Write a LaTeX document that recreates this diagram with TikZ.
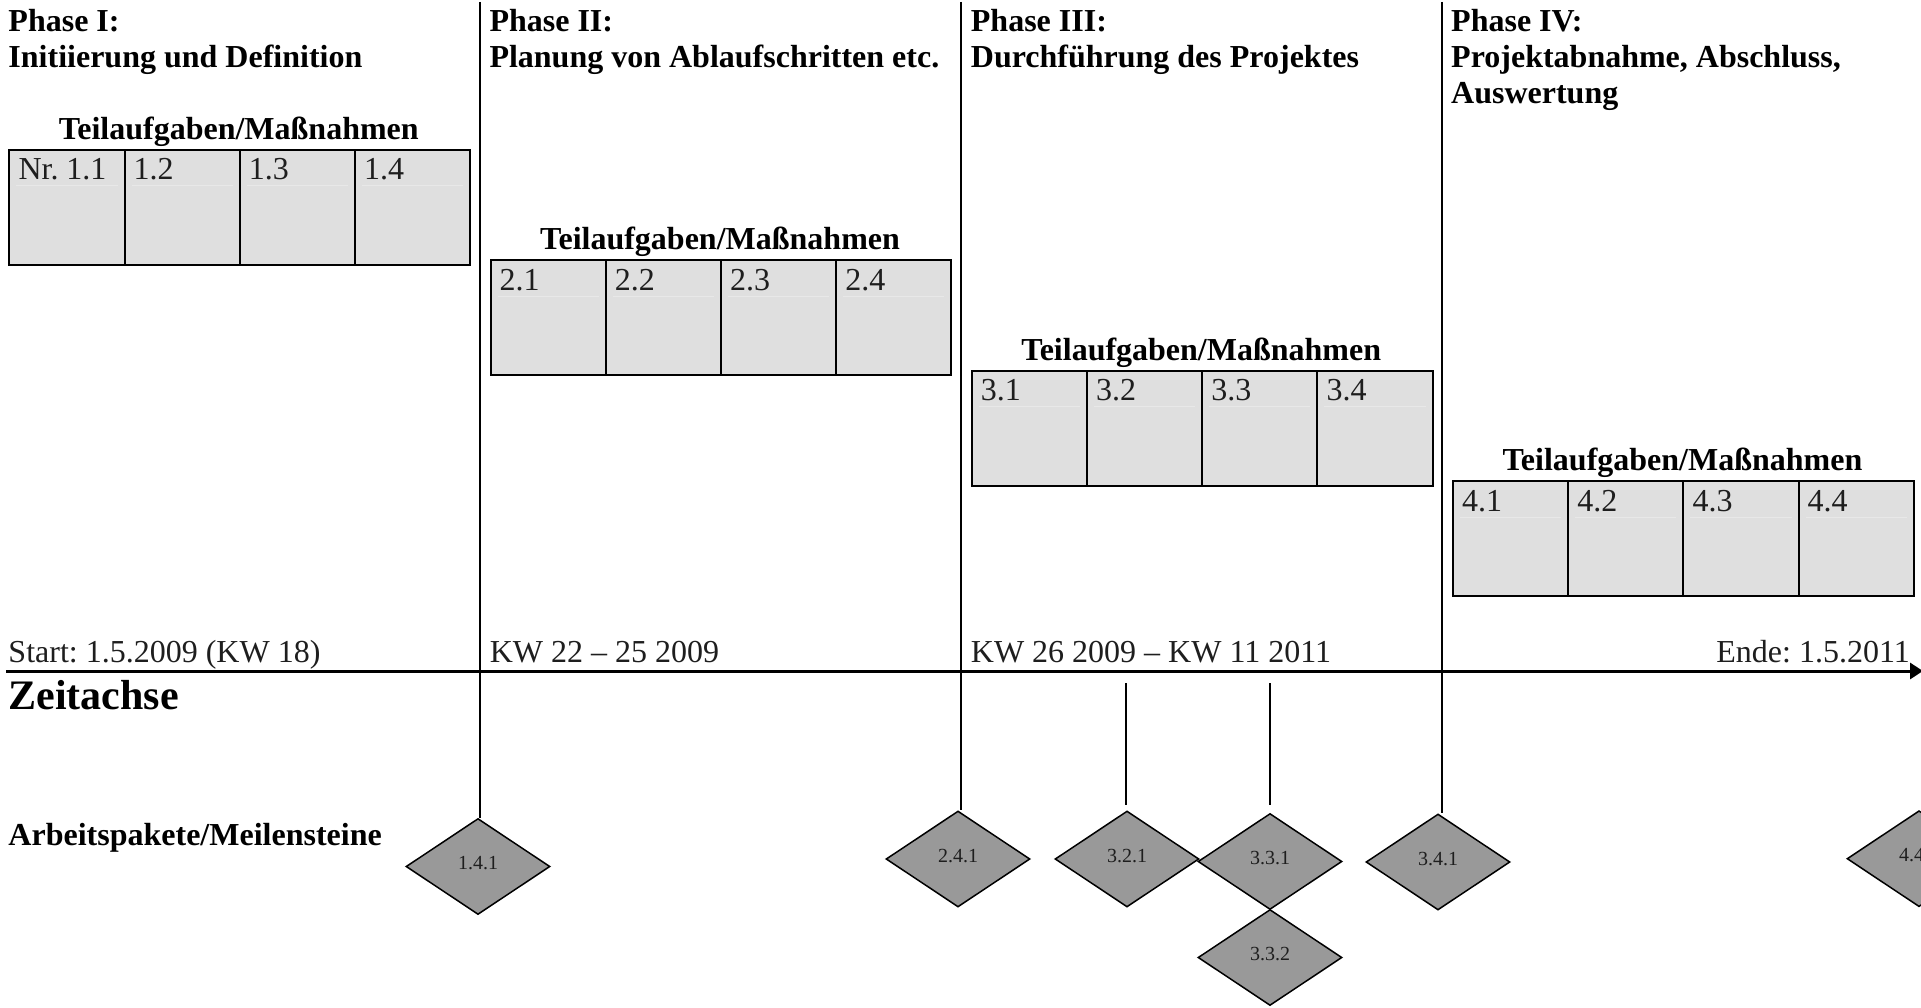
\documentclass[tikz,border=0pt]{standalone}
\usepackage{fontspec}
\setmainfont{Liberation Serif}
\usetikzlibrary{shapes.geometric,arrows.meta}
\definecolor{cellfill}{HTML}{DFDFDF}
\definecolor{msfill}{HTML}{999999}
\definecolor{faintcol}{HTML}{E8E8E8}
\definecolor{txtcol}{HTML}{1E1E1E}
\frenchspacing
\begin{document}
\begin{tikzpicture}[x=1pt,y=-1pt,
  phasetitle/.style={anchor=base west, inner sep=0pt, align=left, font=\fontsize{32}{36}\selectfont\bfseries},
  tahead/.style={anchor=base, inner sep=0pt, font=\fontsize{32}{36}\selectfont\bfseries},
  cellbox/.style={draw, line width=2pt, fill=cellfill, minimum width=115.2pt, minimum height=115pt, inner sep=0pt, anchor=north west},
  celltext/.style={anchor=base west, inner sep=0pt, font=\fontsize{32}{36}\selectfont, text=txtcol},
  faintline/.style={draw=faintcol, line width=1pt},
  timelabel/.style={anchor=base west, inner sep=0pt, font=\fontsize{32}{36}\selectfont, text=txtcol},
  boldlabel/.style={anchor=base west, inner sep=0pt, font=\fontsize{32}{36}\selectfont\bfseries},
  milestone/.style={diamond, draw, line width=1.5pt, fill=msfill, minimum width=144pt, minimum height=96pt, inner sep=0pt, font=\fontsize{20}{20}\selectfont, text=txtcol},
  phaseline/.style={line width=2pt},
  msline/.style={line width=1.5pt},
  axisline/.style={line width=3pt, -{Triangle[length=13pt,width=16pt]}}
]
\useasboundingbox (0,0) rectangle (1921,1008);
\clip (0,0) rectangle (1921,1008);

% phase headers (anchor base = baseline of the last line)
\node[phasetitle] (ph1) at (8.3,68) {Phase I:\\Initiierung und Definition};
\node[phasetitle] (ph2) at (489.3,68) {Phase II:\\Planung von Ablaufschritten etc.};
\node[phasetitle] (ph3) at (970.7,68) {Phase III:\\Durchführung des Projektes};
\node[phasetitle] (ph4) at (1451,104) {Phase IV:\\Projektabnahme, Abschluss,\\Auswertung};

% task boxes
\foreach \p in {1,2,3,4}{
  \pgfmathsetmacro\bx{8.3+481.2*(\p-1)}
  \pgfmathsetmacro\by{149+110.4*(\p-1)}
  \node[tahead] (ta\p) at (\bx+230.5,\by-9.5) {Teilaufgaben/Maßnahmen};
  \foreach \c in {1,2,3,4}{
    \pgfmathsetmacro\cx{\bx+115.2*(\c-1)}
    \node[cellbox] (c\p\c) at (\cx,\by) {};
    \draw[faintline] ([shift={(8,37)}]c\p\c.north west) -- ([shift={(-8,37)}]c\p\c.north east);
    \node[celltext] (t\p\c) at ([shift={(10,31)}]c\p\c.north west) {\ifnum\p\c=11 Nr. \fi\p.\c};
  }
}

% time labels
\node[timelabel] (tl1) at (8.3,662) {Start: 1.5.2009 (KW 18)};
\node[timelabel] (tl2) at (489.6,662) {KW 22 – 25 2009};
\node[timelabel] (tl3) at (970.7,662) {KW 26 2009 – KW 11 2011};
\node[timelabel, anchor=base east] (tl4) at (1910,662) {Ende: 1.5.2011};

\node[anchor=base west, inner sep=0pt, font=\fontsize{42}{46}\selectfont\bfseries] (zeit) at (8.3,709.5) {Zeitachse};
\node[boldlabel] (arb) at (8.3,845) {Arbeitspakete/Meilensteine};

% milestones
\node[milestone] (m141) at (478,866.5) {\raisebox{7pt}{1.4.1}};
\node[milestone] (m241) at (958,859) {\raisebox{7pt}{2.4.1}};
\node[milestone] (m321) at (1127,859) {\raisebox{7pt}{3.2.1}};
\node[milestone] (m331) at (1270,861.5) {\raisebox{7pt}{3.3.1}};
\node[milestone] (m332) at (1270,957.5) {\raisebox{7pt}{3.3.2}};
\node[milestone] (m341) at (1438,862) {\raisebox{7pt}{3.4.1}};
\node[milestone] (m441) at (1919,858.7) {\raisebox{7pt}{4.4.1}};

% phase separator lines
\coordinate (p1top) at (479.5,2);
\coordinate (p2top) at (960.5,2);
\coordinate (p3top) at (1441.7,2);
\draw[phaseline] (p1top) -- (p1top |- m141.north);
\draw[phaseline] (p2top) -- (p2top |- m241.north);
\draw[phaseline] (p3top) -- (p3top |- m341.north);

% short milestone lines
\coordinate (s321a) at (1126,683);
\coordinate (s321b) at (1126,805);
\coordinate (s331a) at (1270,683);
\coordinate (s331b) at (1270,805);
\draw[msline] (s321a) -- (s321b);
\draw[msline] (s331a) -- (s331b);

% time axis
\coordinate (axstart) at (6,671);
\coordinate (axend) at (1923,671);
\draw[axisline] (axstart) -- (axend);
\end{tikzpicture}
\end{document}
